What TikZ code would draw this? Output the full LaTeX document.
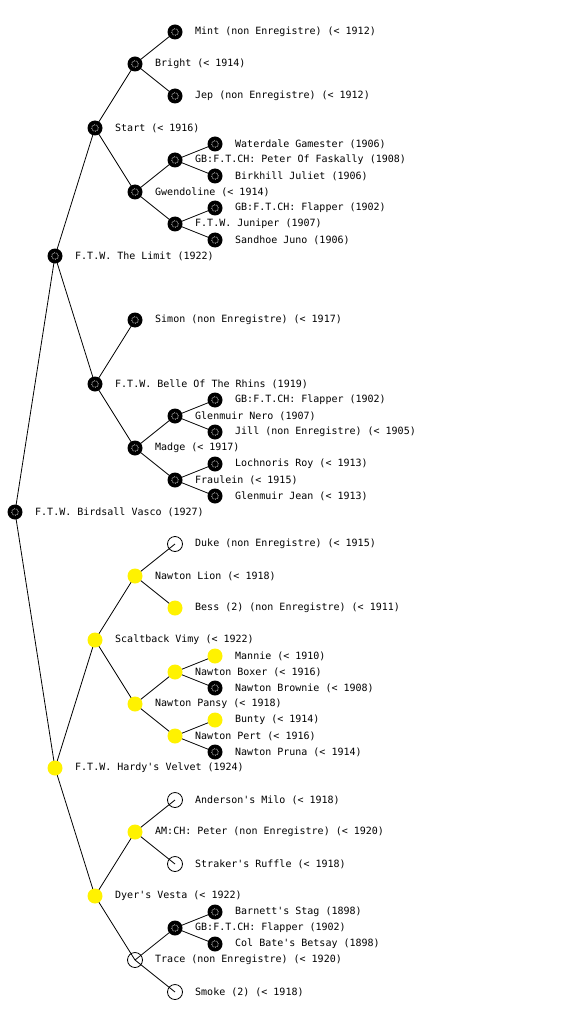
\documentclass[tikz,border=0pt]{standalone}
\usepackage{fontspec}
\setmonofont{DejaVu Sans Mono}
\usetikzlibrary{backgrounds}
\tikzset{
  mk/.style={circle, inner sep=0pt, minimum size=15pt},
  bk/.style={mk, fill=black, path picture={\draw[white, densely dotted, line width=0.7pt] (path picture bounding box.center) circle (3.3pt);}},
  yl/.style={mk, fill=yellow},
  wt/.style={mk, draw=black, line width=0.8pt},
  lbl/.style={anchor=west, inner sep=0pt, font=\ttfamily\fontsize{10}{12}\selectfont},
  edge/.style={draw=black, line width=0.8pt}
}
\newcommand{\pn}[5]{\node[#4] (#1) at (#2,#3) {}; \node[lbl] (#1-t) at (#2+20,#3) {#5};}
\begin{document}
\begin{tikzpicture}[x=1pt,y=-1pt]
\useasboundingbox (0,0) rectangle (560,1024);
% level 0
\pn{a}{15}{512}{bk}{F.T.W. Birdsall Vasco (1927)}
% level 1
\pn{b1}{55}{256}{bk}{F.T.W. The Limit (1922)}
\pn{b2}{55}{768}{yl}{F.T.W. Hardy's Velvet (1924)}
% level 2
\pn{c1}{95}{128}{bk}{Start (< 1916)}
\pn{c2}{95}{384}{bk}{F.T.W. Belle Of The Rhins (1919)}
\pn{c3}{95}{640}{yl}{Scaltback Vimy (< 1922)}
\pn{c4}{95}{896}{yl}{Dyer's Vesta (< 1922)}
% level 3
\pn{d1}{135}{64}{bk}{Bright (< 1914)}
\pn{d2}{135}{192}{bk}{Gwendoline (< 1914)}
\pn{d3}{135}{320}{bk}{Simon (non Enregistre) (< 1917)}
\pn{d4}{135}{448}{bk}{Madge (< 1917)}
\pn{d5}{135}{576}{yl}{Nawton Lion (< 1918)}
\pn{d6}{135}{704}{yl}{Nawton Pansy (< 1918)}
\pn{d7}{135}{832}{yl}{AM:CH: Peter (non Enregistre) (< 1920)}
\pn{d8}{135}{960}{wt}{Trace (non Enregistre) (< 1920)}
% level 4
\pn{e1}{175}{32}{bk}{Mint (non Enregistre) (< 1912)}
\pn{e2}{175}{96}{bk}{Jep (non Enregistre) (< 1912)}
\pn{e3}{175}{160}{bk}{GB:F.T.CH: Peter Of Faskally (1908)}
\pn{e4}{175}{224}{bk}{F.T.W. Juniper (1907)}
\pn{e5}{175}{416}{bk}{Glenmuir Nero (1907)}
\pn{e6}{175}{480}{bk}{Fraulein (< 1915)}
\pn{e7}{175}{544}{wt}{Duke (non Enregistre) (< 1915)}
\pn{e8}{175}{608}{yl}{Bess (2) (non Enregistre) (< 1911)}
\pn{e9}{175}{672}{yl}{Nawton Boxer (< 1916)}
\pn{e10}{175}{736}{yl}{Nawton Pert (< 1916)}
\pn{e11}{175}{800}{wt}{Anderson's Milo (< 1918)}
\pn{e12}{175}{864}{wt}{Straker's Ruffle (< 1918)}
\pn{e13}{175}{928}{bk}{GB:F.T.CH: Flapper (1902)}
\pn{e14}{175}{992}{wt}{Smoke (2) (< 1918)}
% level 5
\pn{f1}{215}{144}{bk}{Waterdale Gamester (1906)}
\pn{f2}{215}{176}{bk}{Birkhill Juliet (1906)}
\pn{f3}{215}{208}{bk}{GB:F.T.CH: Flapper (1902)}
\pn{f4}{215}{240}{bk}{Sandhoe Juno (1906)}
\pn{f5}{215}{400}{bk}{GB:F.T.CH: Flapper (1902)}
\pn{f6}{215}{432}{bk}{Jill (non Enregistre) (< 1905)}
\pn{f7}{215}{464}{bk}{Lochnoris Roy (< 1913)}
\pn{f8}{215}{496}{bk}{Glenmuir Jean (< 1913)}
\pn{f9}{215}{656}{yl}{Mannie (< 1910)}
\pn{f10}{215}{688}{bk}{Nawton Brownie (< 1908)}
\pn{f11}{215}{720}{yl}{Bunty (< 1914)}
\pn{f12}{215}{752}{bk}{Nawton Pruna (< 1914)}
\pn{f13}{215}{912}{bk}{Barnett's Stag (1898)}
\pn{f14}{215}{944}{bk}{Col Bate's Betsay (1898)}
\begin{scope}[on background layer]
\fill[white] (0,0) rectangle (560,1024);
\foreach \p/\c in {a/b1,a/b2,b1/c1,b1/c2,b2/c3,b2/c4,
  c1/d1,c1/d2,c2/d3,c2/d4,c3/d5,c3/d6,c4/d7,c4/d8,
  d1/e1,d1/e2,d2/e3,d2/e4,d4/e5,d4/e6,d5/e7,d5/e8,d6/e9,d6/e10,d7/e11,d7/e12,d8/e13,d8/e14,
  e3/f1,e3/f2,e4/f3,e4/f4,e5/f5,e5/f6,e6/f7,e6/f8,e9/f9,e9/f10,e10/f11,e10/f12,e13/f13,e13/f14}
  \draw[edge] (\p.center) -- (\c.center);
\end{scope}
\end{tikzpicture}
\end{document}
